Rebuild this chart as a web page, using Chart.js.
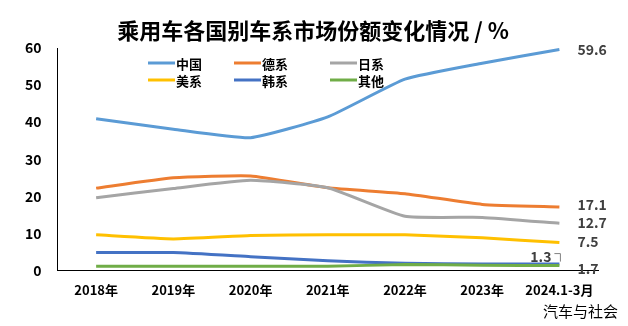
<!DOCTYPE html>
<html>
<head>
<meta charset="utf-8">
<script src="https://cdn.jsdelivr.net/npm/chart.js@4.4.1/dist/chart.umd.min.js"></script>
<style>
  html, body { margin: 0; padding: 0; background: #fff; }
  #wrap { width: 628px; height: 326px; position: relative; }
</style>
</head>
<body>
<div id="wrap"><canvas id="shareChart" width="628" height="326"></canvas></div>
<script>
// categories and series (market share, %)
const years = ["2018年", "2019年", "2020年", "2021年", "2022年", "2023年", "2024.1-3月"];
const china = [40.9, 38.1, 35.8, 41.4, 51.6, 55.9, 59.6];
const german = [22.2, 25.0, 25.5, 22.3, 20.7, 17.8, 17.1];
const japanese = [19.6, 22.1, 24.3, 22.3, 14.6, 14.3, 12.7];
const american = [9.6, 8.5, 9.4, 9.6, 9.6, 8.8, 7.5];
const korean = [4.8, 4.8, 3.7, 2.6, 1.9, 1.7, 1.7];
const others = [1.1, 1.1, 1.1, 1.1, 1.6, 1.4, 1.3];
const yTicks = [0, 10, 20, 30, 40, 50, 60];

const FONT = "'Noto Sans CJK SC', 'Noto Sans', sans-serif";

const series = [
  { label: "中国", data: china, color: "#5B9BD5" },
  { label: "德系", data: german, color: "#ED7D31" },
  { label: "日系", data: japanese, color: "#A5A5A5" },
  { label: "美系", data: american, color: "#FFC000" },
  { label: "韩系", data: korean, color: "#4472C4" },
  { label: "其他", data: others, color: "#70AD47" },
];

// title, legend, end labels and the source note
const decorPlugin = {
  id: "decor",
  afterDraw(chart) {
    const ctx = chart.ctx;
    ctx.save();

    // title
    ctx.fillStyle = "#000";
    ctx.font = "bold 22px " + FONT;
    ctx.textAlign = "center";
    ctx.textBaseline = "middle";
    ctx.fillText("乘用车各国别车系市场份额变化情况 / %", 313, 31);

    // legend, 3 columns x 2 rows
    const colX = [148, 234, 330];
    const rowY = [63, 80];
    ctx.font = "bold 13px " + FONT;
    ctx.textAlign = "left";
    chart.data.datasets.forEach((ds, i) => {
      const x = colX[i % 3], y = rowY[Math.floor(i / 3)];
      ctx.strokeStyle = ds.borderColor;
      ctx.lineWidth = 3;
      ctx.beginPath();
      ctx.moveTo(x, y);
      ctx.lineTo(x + 27, y);
      ctx.stroke();
      ctx.fillStyle = "#000";
      ctx.fillText(ds.label, x + 28, y + 1);
    });

    // end-of-line value labels
    ctx.font = "bold 14px " + FONT;
    ctx.fillStyle = "#404040";
    const xs = chart.scales.x, ys = chart.scales.y;
    const last = years.length - 1;
    const px = xs.getPixelForValue(last);
    const endLabels = [
      { v: china[last], dx: 18, dy: 0 },
      { v: german[last], dx: 18, dy: -2 },
      { v: japanese[last], dx: 18, dy: -1 },
      { v: american[last], dx: 18, dy: -1 },
      { v: korean[last], dx: 18, dy: 5 },
    ];
    endLabels.forEach(l => {
      ctx.fillText(l.v.toFixed(1), px + l.dx, ys.getPixelForValue(l.v) + l.dy);
    });
    // "others" label sits above-left with a small leader
    const oy = ys.getPixelForValue(others[last]);
    ctx.textAlign = "right";
    ctx.fillText(others[last].toFixed(1), px - 8, oy - 9);
    ctx.strokeStyle = "#808080";
    ctx.lineWidth = 1;
    ctx.beginPath();
    ctx.moveTo(px - 5, oy - 12);
    ctx.lineTo(px + 1, oy - 12);
    ctx.lineTo(px + 1, oy - 4);
    ctx.stroke();

    // source note
    ctx.fillStyle = "#000";
    ctx.font = "15px " + FONT;
    ctx.textAlign = "right";
    ctx.fillText("汽车与社会", 618, 311);
    ctx.restore();
  }
};

new Chart(document.getElementById("shareChart"), {
  type: "line",
  data: {
    labels: years,
    // later series drawn on top, as in the original
    datasets: series.map((s, i) => ({
      label: s.label,
      data: s.data,
      borderColor: s.color,
      backgroundColor: s.color,
      borderWidth: 3,
      tension: 0.15,
      pointRadius: 0,
      order: series.length - i,
    })),
  },
  options: {
    responsive: false,
    animation: false,
    layout: { padding: { top: 48, right: 30, bottom: 16, left: 9 } },
    plugins: {
      legend: { display: false },
      title: { display: false },
      tooltip: { enabled: false },
    },
    scales: {
      x: {
        offset: true,
        grid: { display: false, drawTicks: false },
        border: { display: true, color: "#000", width: 1 },
        ticks: {
          padding: 12,
          color: "#000",
          font: { family: FONT, size: 13, weight: "bold" },
          maxRotation: 0,
          autoSkip: false,
        },
      },
      y: {
        min: 0,
        max: 60,
        afterBuildTicks: axis => { axis.ticks = yTicks.map(v => ({ value: v })); },
        grid: { display: false, drawTicks: false },
        border: { display: true, color: "#000", width: 1 },
        ticks: {
          padding: 16,
          color: "#000",
          font: { family: FONT, size: 14, weight: "bold" },
        },
      },
    },
  },
  plugins: [decorPlugin],
});
</script>
</body>
</html>
